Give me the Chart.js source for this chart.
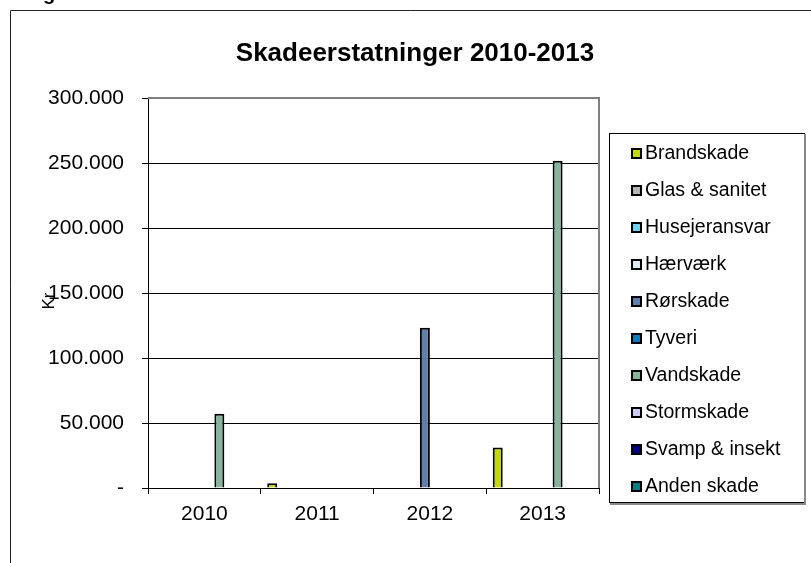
<!DOCTYPE html>
<html>
<head>
<meta charset="utf-8">
<script src="https://cdn.jsdelivr.net/npm/chart.js@4.4.1/dist/chart.umd.min.js"></script>
<style>
  html, body { margin: 0; padding: 0; background: #fff; }
  #wrap { width: 811px; height: 563px; position: relative; }
</style>
</head>
<body>
<div id="wrap"><canvas id="c" width="811" height="563"></canvas></div>
<script>
const categories = ['2010', '2011', '2012', '2013'];
const seriesNames = ['Brandskade', 'Glas & sanitet', 'Husejeransvar', 'Hærværk', 'Rørskade', 'Tyveri', 'Vandskade', 'Stormskade', 'Svamp & insekt', 'Anden skade'];
const seriesColors = ['#c5d800', '#b4b4b4', '#70d0f0', '#d8ecf8', '#5f7fae', '#0a7cc0', '#86b59c', '#ccccff', '#000080', '#008080'];
const brandskade = [null, 3600, null, 31200];
const glasSanitet = [null, null, null, null];
const husejeransvar = [null, null, null, null];
const haervaerk = [null, null, null, null];
const roerskade = [null, null, 123300, null];
const tyveri = [null, null, null, null];
const vandskade = [57200, null, null, 251700];
const stormskade = [null, null, null, null];
const svampInsekt = [null, null, null, null];
const andenSkade = [null, null, null, null];
const seriesValues = [brandskade, glasSanitet, husejeransvar, haervaerk, roerskade, tyveri, vandskade, stormskade, svampInsekt, andenSkade];
const yTickLabels = ['-', '50.000', '100.000', '150.000', '200.000', '250.000', '300.000'];
const titleText = 'Skadeerstatninger 2010-2013';
const yAxisTitle = 'Kr';

const FONT = '"Liberation Sans", Arial, sans-serif';

const decorations = {
  id: 'decorations',
  beforeDraw(chart) {
    const ctx = chart.ctx;
    ctx.save();
    ctx.fillStyle = '#fff';
    ctx.fillRect(0, 0, chart.width, chart.height);
    ctx.restore();
  },
  afterDraw(chart) {
    const ctx = chart.ctx;
    const a = chart.chartArea;
    ctx.save();
    // plot area top/right border (grey)
    ctx.strokeStyle = '#808080';
    ctx.lineWidth = 2;
    ctx.beginPath();
    ctx.moveTo(a.left, a.top);
    ctx.lineTo(a.right, a.top);
    ctx.lineTo(a.right, a.bottom);
    ctx.stroke();
    // outer frame
    ctx.strokeStyle = '#222';
    ctx.lineWidth = 1;
    ctx.beginPath();
    ctx.moveTo(10.5, chart.height);
    ctx.lineTo(10.5, 10.5);
    ctx.lineTo(chart.width, 10.5);
    ctx.stroke();
    // cut-off heading glyph
    ctx.fillStyle = '#000';
    ctx.font = 'bold 20px ' + FONT;
    ctx.textAlign = 'left';
    ctx.textBaseline = 'alphabetic';
    ctx.fillText('g', 43, 0);
    // title
    ctx.font = 'bold 26px ' + FONT;
    ctx.textAlign = 'center';
    ctx.fillText(titleText, 415, 61);
    // y axis title
    ctx.save();
    ctx.translate(54, 301);
    ctx.rotate(-Math.PI / 2);
    ctx.font = '17px ' + FONT;
    ctx.textAlign = 'center';
    ctx.textBaseline = 'alphabetic';
    ctx.fillText(yAxisTitle, 0, 0);
    ctx.restore();
    // legend box
    ctx.fillStyle = '#fff';
    ctx.fillRect(609, 133, 195, 370);
    ctx.strokeStyle = '#000';
    ctx.lineWidth = 1;
    ctx.strokeRect(609.5, 133.5, 195, 369);
    ctx.strokeStyle = '#888';
    ctx.lineWidth = 2;
    ctx.beginPath();
    ctx.moveTo(610, 504);
    ctx.lineTo(805, 504);
    ctx.lineTo(805, 134);
    ctx.stroke();
    ctx.font = '19.5px ' + FONT;
    ctx.textAlign = 'left';
    ctx.textBaseline = 'alphabetic';
    chart.data.datasets.forEach((ds, i) => {
      const y = 148 + i * 37;
      ctx.fillStyle = ds.backgroundColor;
      ctx.fillRect(631, y, 11, 11);
      ctx.strokeStyle = '#000';
      ctx.lineWidth = 2;
      ctx.strokeRect(632, y + 1, 9, 9);
      ctx.fillStyle = '#000';
      ctx.fillText(ds.label, 645, 158.5 + i * 37);
    });
    ctx.restore();
  }
};

new Chart(document.getElementById('c'), {
  type: 'bar',
  data: {
    labels: categories,
    datasets: seriesNames.map((name, i) => ({
      label: name,
      data: seriesValues[i],
      backgroundColor: seriesColors[i],
      borderColor: '#000',
      borderWidth: 2,
      categoryPercentage: 0.885,
      barPercentage: 1.0
    }))
  },
  options: {
    responsive: false,
    animation: false,
    devicePixelRatio: 1,
    layout: { padding: { left: 0, top: 98, right: 212, bottom: 0 } },
    plugins: {
      legend: { display: false },
      title: { display: false },
      tooltip: { enabled: false }
    },
    scales: {
      x: {
        grid: { display: true, drawOnChartArea: false, drawTicks: true, tickLength: 6, color: '#000', lineWidth: 1, offset: true },
        border: { display: true, color: '#000', width: 1 },
        ticks: { color: '#000', font: { family: FONT, size: 21 }, padding: 8, maxRotation: 0 },
        afterFit(s) { s.height = 75; }
      },
      y: {
        min: 0,
        max: 300000,
        grid: { color: '#000', lineWidth: 1, drawTicks: true, tickLength: 6 },
        border: { display: true, color: '#000', width: 1 },
        ticks: {
          stepSize: 50000,
          color: '#000',
          font: { family: FONT, size: 21 },
          padding: 18,
          callback: (v) => yTickLabels[Math.round(v / 50000)]
        },
        afterFit(s) { s.width = 148; }
      }
    }
  },
  plugins: [decorations]
});
</script>
</body>
</html>
